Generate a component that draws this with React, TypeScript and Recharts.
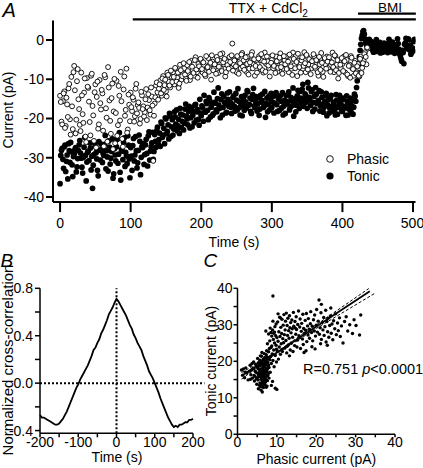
import React from "react";
import {
  ScatterChart,
  Scatter,
  LineChart,
  Line,
  XAxis,
  YAxis,
  ReferenceLine,
  Legend,
} from "recharts";

// Panel A: phasic / tonic current, one reading every second.
// Even and odd seconds are kept in separate arrays.
const sampleStep = 2;

// t = 0, 2, .. 436 s
const phasicEven = [
  -14.2, -20.8, -15.6, -13.1, -21.9, -16.4, -12.3, -20.2, -9.4, -22.7,
  -6.6, -23.8, -10.5, -15.1, -21.6, -8.3, -18.9, -13.4, -24.6, -9.7,
  -12.2, -20.9, -9.1, -16.8, -25.7, -11.3, -14.5, -22.6, -10.2, -17.7,
  -13.6, -27.1, -9.5, -19.8, -6.9, -15.4, -23.9, -11.1, -18.2, -26.3,
  -10.4, -21.7, -14.2, -8.1, -25.2, -12.6, -19.3, -7.3, -22.8, -16.5,
  -13.4, -18.1, -15.2, -19.4, -11.2, -16.6, -17.3, -20.1, -14.1, -16.9,
  -18.4, -12.5, -17.2, -15.3, -19.0, -14.4, -30.8, -16.2, -11.6, -13.3,
  -12.4, -10.3, -14.2, -9.2, -11.5, -13.1, -8.3, -10.6, -12.1, -9.4,
  -8.2, -11.3, -7.4, -9.6, -12.2, -6.3, -10.1, -8.5, -7.2, -9.8,
  -6.4, -8.7, -10.2, -5.3, -7.6, -9.1, -4.4, -8.2, -6.1, -7.4,
  -5.2, -8.3, -6.4, -9.2, -7.1, -4.6, -6.3, -10.1, -5.5, -7.2,
  -6.1, -4.3, -8.4, -5.2, -7.3, -3.4, -6.2, -9.3, -5.4, -6.6,
  -4.3, -7.1, -0.9, -6.2, -5.1, -8.2, -4.4, -6.3, -7.2, -3.3,
  -5.2, -6.4, -8.1, -4.2, -7.3, -5.4, -3.1, -6.2, -9.1, -5.3,
  -6.2, -4.1, -7.4, -5.2, -8.3, -3.2, -6.1, -5.4, -7.1, -4.3,
  -5.1, -7.2, -6.3, -4.2, -8.1, -5.3, -3.4, -6.2, -7.3, -5.1,
  -4.2, -6.3, -8.2, -5.1, -7.3, -3.2, -6.4, -4.1, -9.2, -5.3,
  -6.1, -5.2, -7.4, -3.1, -8.2, -4.3, -6.2, -5.1, -7.2, -6.4,
  -4.1, -7.3, -5.2, -9.1, -6.2, -3.3, -8.1, -5.4, -6.2, -4.2,
  -7.1, -5.3, -6.4, -3.2, -8.2, -4.1, -6.3, -9.8, -5.2, -7.3,
  -6.1, -4.2, -8.3, -5.1, -9.2, -6.3, -4.1, -7.2, -9.1, -5.3,
  -8.2, -6.1, -9.3, -4.2, -7.1, -5.3, -3.1, -6.2, -2.2,
];

// t = 1, 3, .. 435 s
const phasicOdd = [
  -15.8, -21.5, -13.6, -22.4, -14.7, -19.6, -11.2, -24.1, -16.9, -8.2,
  -12.8, -20.3, -7.4, -17.6, -23.2, -14.1, -21.1, -9.8, -26.0, -11.9,
  -15.7, -24.3, -8.6, -19.2, -13.3, -27.4, -10.6, -21.5, -16.1, -12.7,
  -23.1, -8.9, -17.4, -25.9, -12.1, -20.6, -14.8, -27.8, -9.9, -18.6,
  -24.4, -11.7, -20.5, -15.6, -27.2, -9.3, -17.8, -23.6, -13.9, -20.7,
  -17.1, -14.6, -20.8, -12.4, -18.7, -15.9, -21.3, -13.2, -17.6, -19.5,
  -15.1, -20.4, -13.8, -17.9, -12.1, -16.7, -19.3, -14.6, -10.8, -15.2,
  -11.3, -13.6, -9.8, -12.7, -10.1, -14.4, -8.9, -11.6, -7.8, -10.7,
  -9.4, -7.1, -10.6, -8.3, -11.1, -7.7, -9.2, -5.9, -8.8, -10.4,
  -7.9, -5.6, -9.3, -6.8, -8.4, -5.1, -7.5, -9.6, -6.7, -4.8,
  -7.4, -5.7, -8.8, -4.1, -6.9, -8.1, -5.8, -3.9, -7.7, -6.2,
  -8.6, -5.1, -6.8, -3.6, -7.9, -5.7, -4.8, -8.2, -6.4, -7.3,
  -5.6, -3.9, -7.8, -5.2, -6.7, -4.1, -8.6, -5.9, -3.7, -6.8,
  -7.6, -4.4, -6.1, -8.8, -5.7, -3.8, -7.2, -4.9, -6.6, -8.3,
  -4.7, -6.9, -3.6, -7.7, -5.5, -8.1, -4.2, -6.5, -9.3, -5.8,
  -3.9, -6.6, -8.4, -5.4, -7.1, -4.5, -6.9, -8.6, -4.1, -6.2,
  -7.4, -5.5, -3.7, -6.7, -8.9, -4.8, -7.2, -5.6, -3.5, -6.9,
  -8.3, -4.4, -6.6, -5.9, -3.8, -7.5, -4.9, -8.7, -5.4, -3.6,
  -6.8, -5.1, -8.2, -4.3, -7.6, -5.8, -9.4, -4.6, -7.3, -5.5,
  -4.4, -8.1, -5.7, -6.9, -3.9, -7.7, -5.1, -8.4, -6.3, -4.6,
  -7.9, -5.4, -3.8, -8.8, -6.6, -9.6, -4.5, -7.4, -5.8, -8.5,
  -6.7, -9.1, -4.8, -8.4, -5.9, -3.6, -4.3, -1.9,
];

// t = 0, 2, .. 502 s
const tonicEven = [
  -36.6, -28.1, -30.4, -27.2, -33.5, -29.3, -26.4, -31.2, -28.5, -34.8,
  -29.1, -27.4, -32.3, -28.2, -25.6, -30.1, -33.9, -27.3, -29.4, -31.1,
  -28.3, -26.2, -33.1, -37.8, -29.2, -27.1, -30.3, -34.6, -28.1, -26.5,
  -31.2, -29.4, -24.3, -28.2, -33.4, -27.3, -30.1, -25.2, -34.1, -29.3,
  -27.2, -31.4, -23.6, -35.7, -28.3, -26.1, -32.2, -29.5, -24.4, -30.3,
  -27.4, -33.2, -25.1, -29.3, -28.2, -31.3, -24.2, -34.3, -27.1, -26.4,
  -29.2, -25.3, -32.1, -23.4, -28.3, -26.2, -30.4, -24.1, -27.3, -22.2,
  -25.4, -27.1, -21.3, -24.2, -26.4, -20.1, -23.3, -25.2, -19.4, -22.1,
  -24.2, -18.3, -21.4, -23.1, -20.2, -17.4, -22.3, -19.1, -21.2, -16.3,
  -20.1, -18.2, -22.4, -17.3, -19.2, -21.1, -16.4, -18.3, -20.2, -15.1,
  -19.3, -17.2, -14.1, -18.4, -16.2, -20.3, -15.4, -17.1, -19.2, -13.3,
  -16.1, -18.3, -12.2, -17.4, -15.2, -19.1, -14.3, -16.2, -18.4, -15.1,
  -13.2, -17.1, -16.3, -14.2, -18.1, -15.3, -12.4, -17.2, -16.1, -19.3,
  -15.2, -14.1, -17.3, -13.2, -16.4, -18.2, -15.1, -12.3, -17.2, -14.4,
  -16.3, -19.2, -14.1, -15.4, -17.2, -13.1, -16.2, -18.3, -14.2, -15.1,
  -17.2, -14.3, -16.1, -13.4, -18.2, -15.1, -14.2, -17.3, -19.1, -15.4,
  -14.1, -16.3, -13.2, -17.1, -15.4, -12.2, -16.1, -18.3, -14.2, -15.3,
  -13.1, -16.2, -11.3, -15.2, -14.1, -17.4, -12.2, -15.3, -13.1, -18.2,
  -14.3, -12.1, -16.2, -15.4, -18.1, -13.2, -16.3, -17.1, -14.2, -19.3,
  -15.2, -17.3, -14.1, -18.2, -16.4, -19.1, -15.3, -17.2, -14.1, -16.3,
  -18.2, -15.1, -17.3, -14.2, -19.1, -16.3, -18.2, -15.4, -17.1, -14.3,
  -12.1, -8.3, -4.2, -1.1, 1.2, 2.4, 0.3, -1.2, -2.1, 0.2,
  -1.3, -2.2, -3.1, -1.4, 0.1, -2.3, -1.2, -3.3, -2.1, -1.4,
  -2.2, -1.1, -3.2, 0.2, -2.4, -1.3, -2.1, -3.4, -1.2, 0.3,
  -2.3, -4.1, -5.4, -3.2, -1.1, 0.4, -2.2, 0.1, -1.3, -3.1,
  -2.8, 0.2,
];

// t = 1, 3, .. 501 s
const tonicOdd = [
  -29.4, -27.6, -32.7, -26.8, -30.9, -35.4, -28.2, -26.1, -31.8, -29.7,
  -27.9, -33.6, -30.2, -26.7, -28.8, -32.4, -29.9, -24.8, -35.9, -28.6,
  -30.7, -27.5, -29.6, -31.9, -26.3, -28.7, -33.2, -25.9, -30.6, -27.8,
  -28.9, -26.6, -32.8, -29.8, -25.7, -31.6, -28.4, -35.2, -27.7, -30.8,
  -25.3, -29.1, -33.7, -27.9, -30.5, -24.9, -28.6, -31.5, -26.8, -35.1,
  -29.6, -26.9, -30.8, -24.6, -32.6, -28.1, -25.8, -29.9, -27.4, -31.7,
  -26.7, -28.9, -24.4, -30.6, -27.2, -23.5, -28.4, -25.8, -23.1, -26.5,
  -23.7, -20.9, -24.8, -22.5, -19.8, -23.9, -21.6, -18.7, -24.6, -20.3,
  -22.7, -19.6, -17.8, -21.9, -23.8, -18.9, -20.7, -22.9, -17.6, -19.4,
  -21.6, -16.9, -19.8, -22.1, -18.1, -16.6, -20.4, -17.7, -21.7, -18.6,
  -16.8, -20.7, -18.3, -15.6, -17.9, -14.7, -19.6, -16.4, -18.8, -15.9,
  -17.8, -14.9, -16.6, -19.8, -13.7, -17.2, -15.8, -18.6, -13.5, -16.9,
  -15.8, -18.7, -14.6, -16.9, -13.6, -17.8, -15.6, -19.1, -14.4, -16.7,
  -17.9, -15.8, -12.9, -16.6, -14.8, -18.7, -13.9, -16.8, -15.6, -18.1,
  -14.7, -17.6, -15.8, -13.7, -16.9, -19.7, -14.8, -16.4, -17.8, -13.6,
  -15.8, -18.6, -13.7, -16.5, -14.8, -17.9, -15.6, -13.4, -16.8, -18.7,
  -15.6, -13.9, -17.8, -14.6, -16.7, -19.4, -14.9, -16.6, -12.8, -17.4,
  -14.8, -12.6, -16.9, -13.7, -15.8, -10.8, -14.6, -16.7, -12.7, -15.9,
  -17.6, -13.8, -15.7, -12.9, -16.8, -14.6, -18.4, -15.7, -13.6, -16.5,
  -18.6, -14.7, -16.9, -15.8, -17.7, -13.9, -18.9, -16.6, -15.4, -17.8,
  -14.8, -16.9, -19.2, -15.7, -17.6, -14.8, -16.7, -18.9, -13.8, -15.6,
  -10.4, -6.2, -2.6, 0.4, 2.1, 1.5, -0.6, -1.8, -0.9, -1.6,
  -0.4, -2.6, -1.8, -0.7, -2.9, -1.9, -0.6, -2.4, -3.1, -0.8,
  -1.7, -2.8, -0.9, -1.6, -3.0, -0.5, -2.7, -1.5, -2.3, -0.9,
  -3.5, -4.8, -2.6, -6.0, -0.8, -1.9, 0.3, -2.5, -3.6, -2.0,
  -0.4,
];

const timeTicks = [0, 100, 200, 300, 400, 500];
const currentTicks = [-40, -30, -20, -10, 0];

// Panel B: cross-correlation, lag every 5 s from -200 to 200
const lagStep = 5;
const lagStart = -200;
const crossCorr = [
  -0.27, -0.29, -0.29, -0.3, -0.31, -0.32, -0.33, -0.34, -0.35, -0.35,
  -0.34, -0.32, -0.3, -0.27, -0.24, -0.2, -0.16, -0.12, -0.08, -0.04,
  -0.01, 0.03, 0.06, 0.09, 0.12, 0.15, 0.19, 0.23, 0.28, 0.3,
  0.34, 0.37, 0.42, 0.45, 0.49, 0.53, 0.58, 0.61, 0.64, 0.68,
  0.71, 0.69, 0.66, 0.63, 0.6, 0.57, 0.53, 0.49, 0.46, 0.41,
  0.38, 0.34, 0.31, 0.28, 0.23, 0.19, 0.15, 0.1, 0.07, 0.04,
  0.0, -0.04, -0.08, -0.13, -0.17, -0.21, -0.25, -0.29, -0.32, -0.35,
  -0.37, -0.36, -0.37, -0.35, -0.35, -0.34, -0.33, -0.33, -0.31, -0.31,
  -0.3,
];
const lagTicks = [-200, -150, -100, -50, 0, 50, 100, 150, 200];
const lagLabelled = [-200, -100, 0, 100, 200];
const corrTicks = [-0.4, -0.2, 0, 0.2, 0.4, 0.6, 0.8];
const corrLabelled = [-0.4, 0, 0.4, 0.8];

// Panel C: [phasic, tonic] current pairs (pA)
const currentPairs: [number, number][] = [
  [4.2, 16.1], [4.5, 17.3], [4.8, 15.2], [5.0, 18.4], [5.1, 16.7], [5.2, 14.9], [5.3, 19.6], [5.4, 17.8], [5.5, 15.8], [5.6, 13.4],
  [5.7, 20.3], [5.8, 16.4], [5.9, 18.9], [6.0, 12.1], [6.0, 15.1], [6.1, 17.2], [6.1, 21.4], [6.2, 13.8], [6.2, 19.1], [6.3, 16.0],
  [6.3, 11.6], [6.4, 18.2], [6.4, 14.6], [6.5, 20.5], [6.5, 17.5], [6.6, 12.8], [6.6, 15.7], [6.7, 19.8], [6.7, 16.9], [6.8, 13.9],
  [6.8, 22.1], [6.9, 18.5], [6.9, 15.3], [7.0, 17.6], [7.0, 20.9], [7.1, 14.3], [7.1, 16.4], [7.2, 19.3], [7.3, 12.9], [7.3, 18.0],
  [7.4, 15.9], [7.5, 21.2], [7.5, 17.1], [7.6, 14.7], [7.7, 19.7], [7.8, 16.6], [7.9, 22.6], [8.0, 18.3], [8.0, 15.4], [8.2, 20.4],
  [4.0, 18.1], [4.3, 14.6], [4.6, 19.2], [4.9, 13.7], [5.1, 20.8], [5.3, 12.5], [5.4, 16.2], [5.6, 18.7], [5.7, 14.1], [5.8, 21.5],
  [5.9, 13.0], [6.0, 17.9], [6.1, 15.6], [6.2, 22.4], [6.3, 14.2], [6.4, 20.0], [6.5, 13.3], [6.6, 18.8], [6.7, 14.9], [6.8, 17.0],
  [6.9, 21.0], [7.0, 13.6], [7.1, 19.0], [7.2, 15.0], [7.3, 21.8], [7.4, 17.4], [7.5, 13.2], [7.6, 20.6], [7.7, 16.1], [7.8, 18.6],
  [3.8, 15.4], [3.6, 17.6], [3.4, 16.3], [4.1, 19.8], [4.4, 15.9], [4.7, 17.0], [5.0, 15.5], [5.2, 18.0], [5.5, 16.9], [5.8, 17.3],
  [6.0, 19.5], [6.2, 16.5], [6.4, 17.1], [6.6, 16.2], [6.8, 19.4], [7.0, 16.0], [7.2, 17.7], [7.4, 19.9], [7.6, 17.9], [7.9, 19.0],
  [1.0, 17.6], [1.3, 16.2], [1.8, 15.5], [2.1, 18.2], [2.4, 16.8], [2.7, 14.9], [3.0, 17.3], [3.2, 18.9], [3.3, 15.1], [3.7, 19.4],
  [2.0, 17.0], [1.5, 17.9], [9.6, 12.6], [10.0, 12.3], [8.6, 13.4], [8.9, 14.5],
  [8.1, 23.5], [8.2, 25.6], [8.3, 17.0], [8.4, 21.3], [8.5, 27.9], [8.6, 19.4], [8.7, 24.2], [8.8, 22.0], [8.9, 28.6], [9.0, 20.2],
  [9.1, 26.0], [9.2, 23.1], [9.3, 18.5], [9.4, 25.0], [9.5, 29.5], [9.6, 21.6], [9.7, 27.0], [9.8, 24.4], [9.9, 19.8], [10.0, 26.5],
  [10.1, 22.8], [10.2, 30.8], [10.3, 25.5], [10.4, 20.6], [10.5, 28.1], [10.6, 23.9], [10.7, 32.1], [10.8, 26.8], [10.9, 21.9], [11.0, 29.3],
  [11.1, 24.8], [11.2, 27.6], [11.3, 31.5], [11.4, 22.7], [11.5, 26.2], [11.6, 29.9], [11.7, 25.1], [11.8, 32.8], [11.9, 27.3], [12.0, 23.6],
  [7.2, 28.3], [7.6, 24.8], [7.9, 27.5], [8.3, 29.1], [8.7, 26.9], [9.0, 31.0], [9.4, 28.0], [9.8, 30.2], [10.3, 33.0], [10.9, 31.9],
  [7.4, 22.9], [8.0, 21.0], [8.5, 23.8], [9.2, 27.7], [9.9, 23.3],
  [12.1, 28.6], [12.2, 31.0], [12.3, 25.7], [12.4, 33.2], [12.5, 22.3], [12.6, 29.8], [12.7, 27.1], [12.8, 31.8], [12.9, 24.5], [13.0, 28.4],
  [13.1, 26.3], [13.2, 32.5], [13.3, 29.2], [13.4, 23.1], [13.5, 30.6], [13.6, 27.8], [13.7, 25.0], [13.8, 31.3], [13.9, 28.9], [14.0, 26.6],
  [14.2, 33.4], [14.3, 29.6], [14.5, 24.3], [14.6, 30.9], [14.8, 27.4], [14.9, 32.2], [15.0, 28.7], [15.2, 25.8], [15.3, 30.1], [15.5, 33.8],
  [15.6, 27.0], [15.8, 29.4], [15.9, 31.6], [16.0, 23.5], [16.2, 28.2], [16.3, 30.4], [16.5, 26.1], [16.6, 32.9], [16.8, 29.0], [16.9, 22.4],
  [17.0, 27.6], [17.2, 31.2], [17.3, 28.5], [17.5, 33.1], [17.6, 25.4], [17.8, 29.7], [17.9, 27.2], [18.0, 31.7], [14.1, 22.7], [15.1, 23.9],
  [13.2, 21.5], [12.6, 24.1], [16.7, 24.6], [17.4, 22.9], [14.7, 29.1],
  [18.2, 28.8], [18.3, 26.3], [18.5, 30.3], [18.6, 33.6], [18.8, 27.9], [19.0, 29.6], [19.1, 25.6], [19.3, 31.4], [19.5, 28.3], [19.6, 32.7],
  [19.8, 26.9], [20.0, 29.9], [20.1, 34.2], [20.3, 28.0], [20.5, 31.0], [20.7, 36.8], [20.8, 27.4], [21.0, 29.2], [21.2, 33.3], [21.3, 26.0],
  [21.5, 30.6], [21.7, 28.6], [21.9, 32.0], [22.0, 27.1], [22.2, 29.5], [22.4, 34.0], [22.5, 25.3], [22.7, 30.9], [22.9, 28.1], [23.0, 31.8],
  [23.2, 26.6], [23.4, 29.8], [23.6, 32.4], [23.8, 27.7], [24.0, 30.2], [24.2, 25.9], [24.4, 31.1], [24.7, 28.9], [24.9, 33.0], [25.1, 27.3],
  [18.9, 24.0], [19.7, 23.4], [21.1, 24.8], [22.8, 24.4], [23.7, 34.6],
  [25.4, 30.5], [25.6, 28.4], [25.9, 31.9], [26.1, 26.8], [26.4, 29.7], [26.8, 25.0], [27.2, 30.9], [27.6, 32.2], [28.0, 28.3], [28.5, 30.0],
  [29.2, 27.6], [30.1, 29.8], [31.0, 27.2], [31.3, 32.7], [29.6, 31.4],
  [9.0, 37.9], [21.3, 35.6],
];

// linear fit and 95% confidence band
const fitLine = [{ x: 1, y: 16.0 }, { x: 33.6, y: 39.2 }];
const fitUpper = [{ x: 1, y: 16.9 }, { x: 6, y: 20.0 }, { x: 12, y: 24.1 }, { x: 20, y: 30.0 }, { x: 33.7, y: 40.2 }];
const fitLower = [{ x: 1, y: 15.1 }, { x: 6, y: 19.1 }, { x: 12, y: 23.5 }, { x: 20, y: 29.0 }, { x: 35, y: 38.7 }];
const ampTicks = [0, 5, 10, 15, 20, 25, 30, 35, 40];
const ampLabelled = [0, 10, 20, 30, 40];

const legendItems = [
  { name: "Phasic", open: true },
  { name: "Tonic", open: false },
];

const black = "#000";
const tickFont = { fill: black, fontSize: 14 };

const toPoints = (even: number[], odd: number[]) => [
  ...even.map((v, i) => ({ t: i * sampleStep, v })),
  ...odd.map((v, i) => ({ t: 1 + i * sampleStep, v })),
];
const phasicPoints = toPoints(phasicEven, phasicOdd);
const tonicPoints = toPoints(tonicEven, tonicOdd);
const corrPoints = crossCorr.map((r, i) => ({ lag: lagStart + i * lagStep, r }));
const pairPoints = currentPairs.map(([x, y]) => ({ x, y }));

function FilledDot(p: any) {
  return <circle cx={p.cx} cy={p.cy} r={2.85} fill={black} />;
}
function OpenDot(p: any) {
  return <circle cx={p.cx} cy={p.cy} r={2.45} fill="#fff" stroke={black} strokeWidth={0.9} />;
}
function SmallDot(p: any) {
  return <circle cx={p.cx} cy={p.cy} r={1.7} fill={black} />;
}
function NoDot() {
  return <g />;
}

function sideTitle(text: string, x: number, y: number, size = 14) {
  return () => (
    <text x={x} y={y} transform={`rotate(-90 ${x} ${y})`} textAnchor="middle"
      dominantBaseline="central" fontSize={size} fill={black}>{text}</text>
  );
}
function bottomTitle(text: string, x: number, y: number) {
  return () => (
    <text x={x} y={y} textAnchor="middle" fontSize={14} fill={black}>{text}</text>
  );
}

function PhaseLegend() {
  return (
    <div style={{ fontSize: 14, color: black }}>
      {legendItems.map((it) => (
        <div key={it.name} style={{ display: "flex", alignItems: "center", height: 17 }}>
          <svg width={12} height={12} style={{ marginRight: 11 }}>
            {it.open
              ? <circle cx={6} cy={6} r={3.3} fill="#fff" stroke={black} strokeWidth={0.9} />
              : <circle cx={6} cy={6} r={3.6} fill={black} />}
          </svg>
          <span>{it.name}</span>
        </div>
      ))}
    </div>
  );
}

const thickAxis = { stroke: black, strokeWidth: 2 };
const thinAxis = { stroke: black, strokeWidth: 1.5 };

export default function App() {
  return (
    <div style={{ position: "absolute", left: 0, top: 0, width: 423, height: 468, background: "#fff",
      fontFamily: '"Liberation Sans", Arial, sans-serif', color: black }}>
      {/* A: time course */}
      <div style={{ position: "absolute", left: 0, top: 0 }}>
        <ScatterChart width={423} height={250} margin={{ top: 20.4, right: 7.5, bottom: 17.9, left: 0 }}>
          <XAxis type="number" dataKey="t" domain={[-10, 503.5]} ticks={timeTicks} allowDataOverflow
            axisLine={thickAxis} tickLine={thickAxis} tickSize={10} tickMargin={6} tick={tickFont}
            height={30} label={bottomTitle("Time (s)", 234, 247)} />
          <YAxis type="number" dataKey="v" domain={[-41.3, 5]} ticks={currentTicks} allowDataOverflow
            axisLine={thickAxis} tickLine={thickAxis} tickSize={7} tickMargin={2} tick={tickFont}
            width={53} label={sideTitle("Current (pA)", 8, 110)} />
          <ReferenceLine ifOverflow="visible" stroke={black} strokeWidth={2.3}
            segment={[{ x: 103, y: 5.28 }, { x: 504, y: 5.28 }]}
            label={(p: any) => (
              <text x={p.viewBox.x + p.viewBox.width / 2 - 6} y={12.5} textAnchor="middle" fontSize={14} fill={black}>
                TTX + CdCl<tspan dy={4} fontSize={10}>2</tspan>
              </text>
            )} />
          <ReferenceLine ifOverflow="visible" stroke={black} strokeWidth={2.3}
            segment={[{ x: 422, y: 6.71 }, { x: 504, y: 6.71 }]}
            label={(p: any) => (
              <text x={p.viewBox.x + p.viewBox.width / 2 + 3} y={12.3} textAnchor="middle" fontSize={13.5} fill={black}>
                BMI
              </text>
            )} />
          <Scatter name="Tonic" data={tonicPoints} shape={FilledDot} isAnimationActive={false} />
          <Scatter name="Phasic" data={phasicPoints} shape={OpenDot} isAnimationActive={false} />
          <Legend layout="vertical" align="center" verticalAlign="middle" content={() => <PhaseLegend />}
            wrapperStyle={{ left: 324, top: 150.5, width: 90 }} />
        </ScatterChart>
      </div>

      {/* B: cross-correlation */}
      <div style={{ position: "absolute", left: 0, top: 250 }}>
        <LineChart width={210} height={218} data={corrPoints} margin={{ top: 38.3, right: 17, bottom: 4.7, left: 0 }}>
          <XAxis type="number" dataKey="lag" domain={[-200, 200]} ticks={lagTicks}
            tickFormatter={(v) => (lagLabelled.includes(v) ? String(v) : "")}
            axisLine={thinAxis} tickLine={thinAxis} tickSize={4} tickMargin={0} tick={tickFont}
            height={30} label={bottomTitle("Time (s)", 117, 212)} />
          <YAxis type="number" domain={[-0.423, 0.8]} ticks={corrTicks} allowDataOverflow
            tickFormatter={(v) => (corrLabelled.includes(v) ? v.toFixed(1) : "")}
            axisLine={thinAxis} tickLine={thinAxis} tickSize={5} tickMargin={2} tick={tickFont}
            width={40} label={sideTitle("Normalized cross-correlation", 7, 110, 15)} />
          <ReferenceLine ifOverflow="visible" stroke={black} strokeWidth={2} strokeDasharray="2 2"
            segment={[{ x: -200, y: 0 }, { x: 230, y: 0 }]} />
          <ReferenceLine x={0} stroke={black} strokeWidth={2} strokeDasharray="2 2" />
          <Line type="linear" dataKey="r" stroke={black} strokeWidth={1.8} dot={false} isAnimationActive={false} />
        </LineChart>
      </div>

      {/* C: tonic vs phasic */}
      <div style={{ position: "absolute", left: 190, top: 250 }}>
        <ScatterChart width={233} height={218} margin={{ top: 38.3, right: 28, bottom: 3.7, left: 0 }}>
          <XAxis type="number" dataKey="x" domain={[0, 40]} ticks={ampTicks} allowDataOverflow
            tickFormatter={(v) => (ampLabelled.includes(v) ? String(v) : "")}
            axisLine={thinAxis} tickLine={thinAxis} tickSize={3} tickMargin={0} tick={tickFont}
            height={30} label={bottomTitle("Phasic current (pA)", 126.3, 213.5)} />
          <YAxis type="number" dataKey="y" domain={[0, 40]} ticks={ampTicks} allowDataOverflow
            tickFormatter={(v) => (ampLabelled.includes(v) ? String(v) : "")}
            axisLine={thinAxis} tickLine={thinAxis} tickSize={4} tickMargin={1} tick={tickFont}
            width={47.5} label={sideTitle("Tonic current (pA)", 21, 111)} />
          <Scatter data={pairPoints} shape={SmallDot} isAnimationActive={false} />
          <Scatter data={fitUpper} shape={NoDot} line={{ stroke: black, strokeWidth: 1, strokeDasharray: "3 2" }} isAnimationActive={false} />
          <Scatter data={fitLower} shape={NoDot} line={{ stroke: black, strokeWidth: 1, strokeDasharray: "3 2" }} isAnimationActive={false} />
          <Scatter data={fitLine} shape={NoDot} line={{ stroke: black, strokeWidth: 1.8 }} isAnimationActive={false} />
        </ScatterChart>
      </div>

      <svg width={423} height={468} style={{ position: "absolute", left: 0, top: 0, pointerEvents: "none" }}>
        <text x={2.5} y={16.7} fontSize={20} fontStyle="italic" fill={black}>A</text>
        <text x={0.5} y={266.7} fontSize={19} fontStyle="italic" fill={black}>B</text>
        <text x={203.5} y={266.7} fontSize={19} fontStyle="italic" fill={black}>C</text>
        <text x={303} y={374} fontSize={14.5} fill={black}>
          R=0.751 <tspan fontStyle="italic">p</tspan>&lt;0.0001
        </text>
      </svg>
    </div>
  );
}
